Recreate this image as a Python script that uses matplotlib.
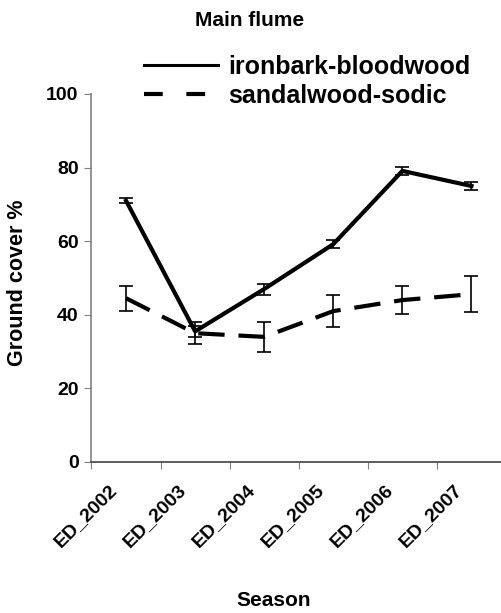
import matplotlib
matplotlib.use("Agg")
import matplotlib.pyplot as plt
import matplotlib.transforms as mtransforms
from matplotlib.lines import Line2D
import numpy as np

plt.rcParams['font.family'] = ['Liberation Sans', 'DejaVu Sans']
plt.rcParams['font.weight'] = 'bold'
plt.rcParams['lines.scale_dashes'] = False

seasons = ["ED_2002", "ED_2003", "ED_2004", "ED_2005", "ED_2006", "ED_2007"]
ironbark = [71.0, 35.5, 47.0, 59.2, 79.1, 75.0]
ironbark_err = [0.7, 1.5, 1.5, 1.0, 1.0, 1.1]
sandalwood = [44.5, 35.0, 34.0, 41.0, 44.0, 45.6]
sandalwood_err = [3.4, 3.0, 4.0, 4.4, 3.9, 4.9]
yticks = [0, 20, 40, 60, 80, 100]

W, H = 502, 613
fig = plt.figure(figsize=(W / 100, H / 100), dpi=100)
left, right = 91.5, 506
bottom, top = 462, 94
ax = fig.add_axes([left / W, 1 - bottom / H, (right - left) / W, (bottom - top) / H])

x = np.arange(len(seasons))
ax.errorbar(x, ironbark, yerr=ironbark_err, color='black', lw=3.0,
            elinewidth=1.2, capsize=4.7, capthick=1.2,
            label='ironbark-bloodwood')
ax.errorbar(x, sandalwood, yerr=sandalwood_err, color='black', lw=3.0,
            linestyle=(0, (19, 10)), elinewidth=1.2, capsize=4.7, capthick=1.2,
            label='sandalwood-sodic')

ax.set_xlim(-0.5, len(seasons) - 0.5)
ax.set_ylim(0, 100)
ax.set_yticks(yticks)
ax.set_yticklabels([str(v) for v in yticks], fontsize=14, fontweight='bold')
ax.set_xticks(np.arange(len(seasons) + 1) - 0.5)
ax.set_xticklabels([])
ax.tick_params(axis='x', length=5, direction='out', color='#808080')
ax.tick_params(axis='y', length=5, direction='out', color='#808080', pad=4.3)

# category labels, positioned on the category centres via the x-axis transform
lab_tr = ax.get_xaxis_transform() + mtransforms.ScaledTranslation(
    -18 / 100, -19 / 100, fig.dpi_scale_trans)
for xi, s in zip(x, seasons):
    ax.text(xi, 0, s, transform=lab_tr, rotation=45, ha='right', va='top',
            rotation_mode='anchor', fontsize=14, fontweight='bold')

for s in ['top', 'right']:
    ax.spines[s].set_visible(False)
ax.spines['left'].set_color('#808080')
ax.spines['bottom'].set_color('#404040')
ax.spines['left'].set_linewidth(1.2)
ax.spines['bottom'].set_linewidth(1.2)

fig.text(18 / W, 1 - 283 / H, 'Ground cover %', ha='center', va='center',
         rotation=90, fontsize=15.5, fontweight='bold')
fig.text(274 / W, 1 - 600 / H, 'Season', ha='center', va='center',
         fontsize=15, fontweight='bold')
fig.text(250 / W, 1 - 20 / H, 'Main flume', ha='center', va='center',
         fontsize=15, fontweight='bold')

h1 = Line2D([], [], color='black', lw=2.2)
h2 = Line2D([], [], color='black', lw=3.0, linestyle=(0, (13.5, 17)))
leg = ax.legend([h1, h2], ['ironbark-bloodwood', 'sandalwood-sodic'],
                loc='upper left', bbox_to_anchor=(144 / W, 1 - 55 / H),
                bbox_transform=fig.transFigure, frameon=False,
                prop={'size': 18, 'weight': 'bold'}, handlelength=2.95,
                handletextpad=0.4, labelspacing=0.2, borderaxespad=0,
                borderpad=0)

fig.savefig('out.png', dpi=100)
